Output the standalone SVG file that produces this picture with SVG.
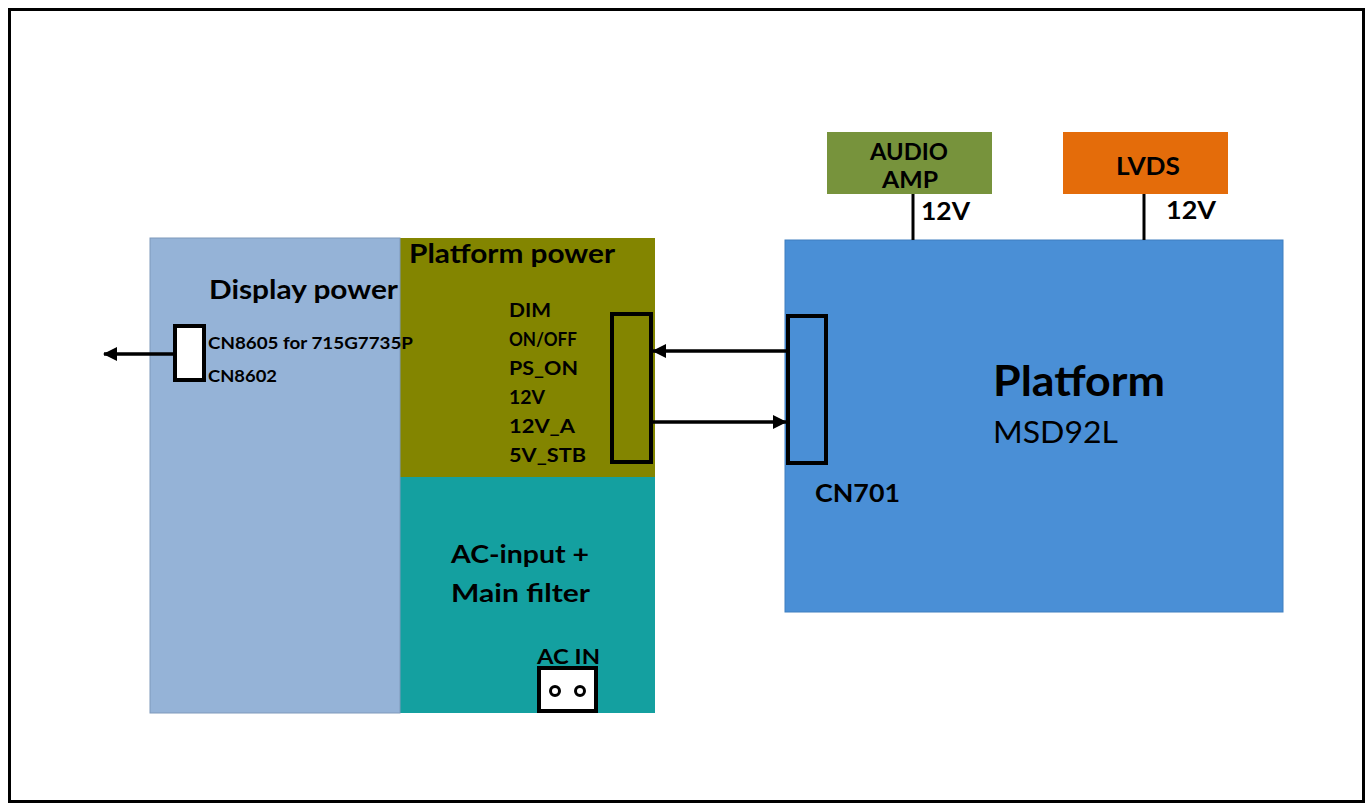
<svg xmlns="http://www.w3.org/2000/svg" width="1370" height="805" viewBox="0 0 1370 805">
<defs>
<marker id="ah" markerWidth="14" markerHeight="14" refX="13" refY="7" orient="auto" markerUnits="userSpaceOnUse" viewBox="0 0 14 14">
<path d="M0,0 L14,7 L0,14 z" fill="#000"/>
</marker>
<style>
text{font-family:Lato,"Open Sans","Liberation Sans",sans-serif;fill:#000}
.b{font-weight:bold}
.conn{fill:none;stroke:#000;stroke-width:4}
.ln{stroke:#000;stroke-width:3;fill:none}
.arr{stroke:#000;stroke-width:3.5;fill:none}
</style>
</defs>
<rect x="9.5" y="9.5" width="1354" height="792" fill="#fff" stroke="#000" stroke-width="3"/>
<g id="platform-power">
<rect x="400" y="238" width="255" height="239" fill="#838500"/>
<text class="b" x="409" y="263" font-size="26" textLength="206" lengthAdjust="spacingAndGlyphs">Platform power</text>
<text class="b" x="509" y="317" font-size="19" textLength="42" lengthAdjust="spacingAndGlyphs">DIM</text>
<text class="b" x="509" y="346" font-size="19" textLength="68" lengthAdjust="spacingAndGlyphs">ON/OFF</text>
<text class="b" x="509" y="375" font-size="19" textLength="69" lengthAdjust="spacingAndGlyphs">PS_ON</text>
<text class="b" x="509" y="404" font-size="19" textLength="36" lengthAdjust="spacingAndGlyphs">12V</text>
<text class="b" x="509" y="433" font-size="19" textLength="66" lengthAdjust="spacingAndGlyphs">12V_A</text>
<text class="b" x="509" y="462" font-size="19" textLength="77" lengthAdjust="spacingAndGlyphs">5V_STB</text>
<rect class="conn" x="612" y="314" width="39" height="148"/>
</g>
<g id="ac-input">
<rect x="400" y="477" width="255" height="236" fill="#14a0a0"/>
<text class="b" x="451" y="563" font-size="25" textLength="138" lengthAdjust="spacingAndGlyphs">AC-input +</text>
<text class="b" x="451" y="602" font-size="25" textLength="139" lengthAdjust="spacingAndGlyphs">Main filter</text>
<text class="b" x="537" y="664" font-size="21" textLength="63" lengthAdjust="spacingAndGlyphs">AC IN</text>
<rect x="539" y="668" width="57" height="43" fill="#fff" stroke="#000" stroke-width="4"/>
<circle cx="555" cy="691" r="4.5" fill="none" stroke="#000" stroke-width="3"/>
<circle cx="580" cy="691" r="4.5" fill="none" stroke="#000" stroke-width="3"/>
</g>
<g id="display-power">
<rect x="150" y="238" width="250" height="475" fill="#95b3d7" stroke="#7f99bb" stroke-width="1"/>
<text class="b" x="209" y="299" font-size="26" textLength="189" lengthAdjust="spacingAndGlyphs">Display power</text>
<rect x="175" y="326" width="29" height="54" fill="#fff" stroke="#000" stroke-width="4"/>
<text class="b" x="208" y="349" font-size="17.5" textLength="205" lengthAdjust="spacingAndGlyphs">CN8605 for 715G7735P</text>
<text class="b" x="208" y="382" font-size="17.5" textLength="69" lengthAdjust="spacingAndGlyphs">CN8602</text>
</g>
<g id="platform">
<rect x="785" y="240" width="498" height="372" fill="#4a8fd6" stroke="#3f7fc0" stroke-width="1"/>
<text class="b" x="993" y="396" font-size="42" textLength="172" lengthAdjust="spacingAndGlyphs">Platform</text>
<text x="993" y="443" font-size="31" textLength="125" lengthAdjust="spacingAndGlyphs">MSD92L</text>
<rect class="conn" x="788" y="316" width="38" height="147"/>
<text class="b" x="815" y="502" font-size="24" textLength="85" lengthAdjust="spacingAndGlyphs">CN701</text>
</g>
<g id="audio-amp">
<rect x="827" y="132" width="165" height="62" fill="#77933c"/>
<text class="b" x="909" y="160" font-size="23" text-anchor="middle" textLength="78" lengthAdjust="spacingAndGlyphs">AUDIO</text>
<text class="b" x="910" y="188" font-size="23" text-anchor="middle" textLength="56" lengthAdjust="spacingAndGlyphs">AMP</text>
</g>
<g id="lvds">
<rect x="1063" y="132" width="165" height="62" fill="#e46c0a"/>
<text class="b" x="1148" y="175" font-size="24" text-anchor="middle" textLength="64" lengthAdjust="spacingAndGlyphs">LVDS</text>
</g>
<g id="connectors">
<line class="ln" x1="913" y1="194" x2="913" y2="240"/>
<line class="ln" x1="1144" y1="194" x2="1144" y2="240"/>
<text class="b" x="921" y="220" font-size="24" textLength="49" lengthAdjust="spacingAndGlyphs">12V</text>
<text class="b" x="1166" y="219" font-size="24" textLength="50" lengthAdjust="spacingAndGlyphs">12V</text>
<line class="arr" x1="786" y1="351" x2="653" y2="351" marker-end="url(#ah)"/>
<line class="arr" x1="652" y1="422" x2="786" y2="422" marker-end="url(#ah)"/>
<line class="arr" x1="175" y1="354" x2="104" y2="354" marker-end="url(#ah)"/>
</g>
</svg>
